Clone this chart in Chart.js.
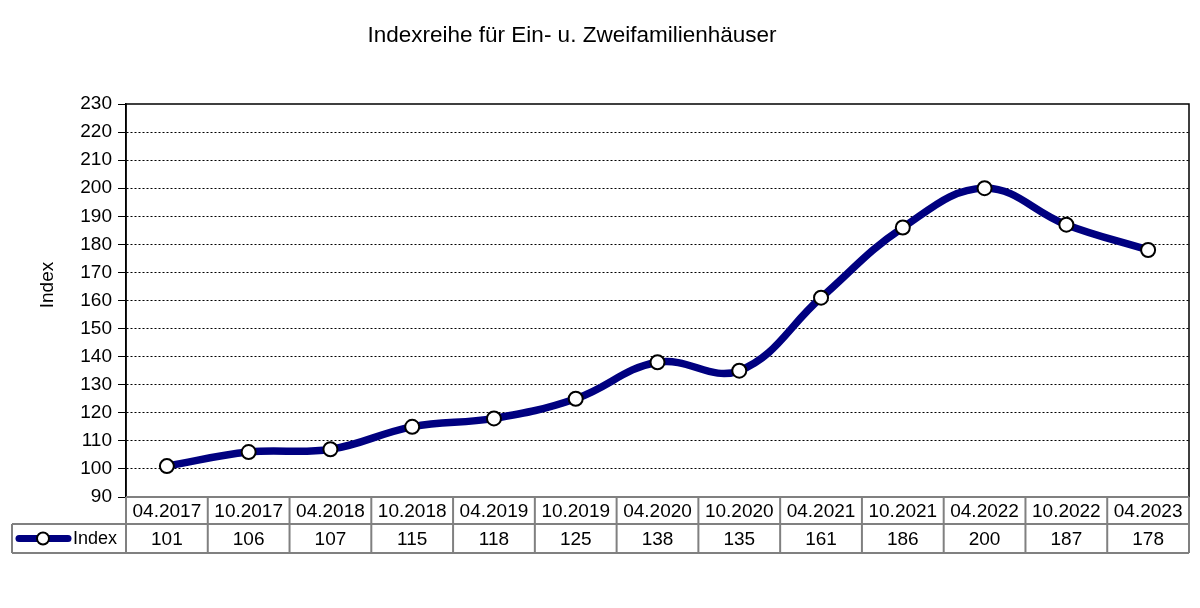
<!DOCTYPE html>
<html>
<head>
<meta charset="utf-8">
<title>Indexreihe</title>
<script src="https://cdn.jsdelivr.net/npm/chart.js@4/dist/chart.umd.min.js"></script>
<style>
  html, body { margin: 0; padding: 0; background: #fff; }
  #wrap { width: 1200px; height: 608px; }
</style>
</head>
<body>
<div id="wrap"><canvas id="indexChart" width="1200" height="608"></canvas></div>
<script>
// data
const periods = ['04.2017','10.2017','04.2018','10.2018','04.2019','10.2019','04.2020','10.2020','04.2021','10.2021','04.2022','10.2022','04.2023'];
const indexValues = [101, 106, 107, 115, 118, 125, 138, 135, 161, 186, 200, 187, 178];
const seriesName = 'Index';
const chartTitle = 'Indexreihe für Ein- u. Zweifamilienhäuser';
const yTitle = 'Index';
const yMin = 90, yMax = 230, yStep = 10;

const FONT = '"Liberation Sans", Arial, sans-serif';
const LINE_COLOR = '#000080';
const TABLE_COLOR = '#808080';

// title, y-axis title, plot frame and the data table under the chart
const decorPlugin = {
    id: 'decor',
    afterDraw(chart) {
        const ctx = chart.ctx;
        const area = chart.chartArea;
        const xs = chart.scales.x;
        const n = periods.length;
        const cellW = (xs.right - xs.left) / n;

        ctx.save();
        ctx.fillStyle = '#000';
        ctx.font = '22.5px ' + FONT;
        ctx.textAlign = 'center';
        ctx.textBaseline = 'alphabetic';
        ctx.fillText(chartTitle, 572, 42);

        ctx.save();
        ctx.translate(53, 285);
        ctx.rotate(-Math.PI / 2);
        ctx.font = '19px ' + FONT;
        ctx.fillText(yTitle, 0, 0);
        ctx.restore();

        // solid frame around plot (left, top, right)
        ctx.strokeStyle = '#000';
        ctx.lineWidth = 1.5;
        ctx.beginPath();
        ctx.moveTo(area.left, area.bottom);
        ctx.lineTo(area.left, area.top);
        ctx.lineTo(area.right, area.top);
        ctx.lineTo(area.right, area.bottom);
        ctx.stroke();

        // table
        const r1 = area.bottom, r2 = area.bottom + 27, r3 = area.bottom + 56;
        const legendLeft = 12;
        ctx.strokeStyle = TABLE_COLOR;
        ctx.lineWidth = 2;
        ctx.beginPath();
        ctx.moveTo(xs.left, r1); ctx.lineTo(xs.right, r1);
        ctx.moveTo(legendLeft, r2); ctx.lineTo(xs.right, r2);
        ctx.moveTo(legendLeft, r3); ctx.lineTo(xs.right, r3);
        ctx.moveTo(legendLeft, r2); ctx.lineTo(legendLeft, r3);
        for (let i = 0; i <= n; i++) {
            const x = xs.left + i * cellW;
            ctx.moveTo(x, r1); ctx.lineTo(x, r3);
        }
        ctx.stroke();

        ctx.fillStyle = '#000';
        ctx.font = '19px ' + FONT;
        ctx.textAlign = 'center';
        ctx.textBaseline = 'middle';
        periods.forEach((p, i) => {
            const cx = xs.getPixelForValue(i);
            ctx.fillText(p, cx, (r1 + r2) / 2 + 1);
            ctx.fillText(String(indexValues[i]), cx, (r2 + r3) / 2 + 1);
        });

        // legend key in the table
        const ly = (r2 + r3) / 2;
        ctx.strokeStyle = LINE_COLOR;
        ctx.lineWidth = 7;
        ctx.lineCap = 'round';
        ctx.beginPath();
        ctx.moveTo(19, ly); ctx.lineTo(68, ly);
        ctx.stroke();
        ctx.fillStyle = '#fff';
        ctx.strokeStyle = '#000';
        ctx.lineWidth = 2;
        ctx.beginPath();
        ctx.arc(43, ly, 6, 0, Math.PI * 2);
        ctx.fill();
        ctx.stroke();
        ctx.fillStyle = '#000';
        ctx.textAlign = 'left';
        ctx.font = '18px ' + FONT;
        ctx.fillText(seriesName, 73, ly + 1);
        ctx.restore();
    }
};

new Chart(document.getElementById('indexChart'), {
    type: 'line',
    data: {
        labels: periods,
        datasets: [{
            label: seriesName,
            data: indexValues,
            borderColor: LINE_COLOR,
            borderWidth: 7.5,
            tension: 0.4,
            pointRadius: 7,
            pointBackgroundColor: '#fff',
            pointBorderColor: '#000',
            pointBorderWidth: 2
        }]
    },
    options: {
        responsive: false,
        animation: false,
        layout: { padding: { left: 0, top: 104, right: 11, bottom: 111 } },
        plugins: {
            legend: { display: false },
            title: { display: false },
            tooltip: { enabled: false }
        },
        scales: {
            x: { display: false, offset: true },
            y: {
                min: yMin,
                max: yMax,
                afterFit: s => { s.width = 126; },
                ticks: {
                    stepSize: yStep,
                    color: '#000',
                    padding: 6,
                    font: { family: FONT, size: 19 }
                },
                grid: {
                    color: c => (c.tick && (c.tick.value === yMin || c.tick.value === yMax)) ? 'rgba(0,0,0,0)' : '#000',
                    lineWidth: 1,
                    tickLength: 8,
                    tickColor: '#000',
                    tickBorderDash: []
                },
                border: { display: true, color: '#000', width: 1.5, dash: [2, 2] }
            }
        }
    },
    plugins: [decorPlugin]
});
</script>
</body>
</html>
